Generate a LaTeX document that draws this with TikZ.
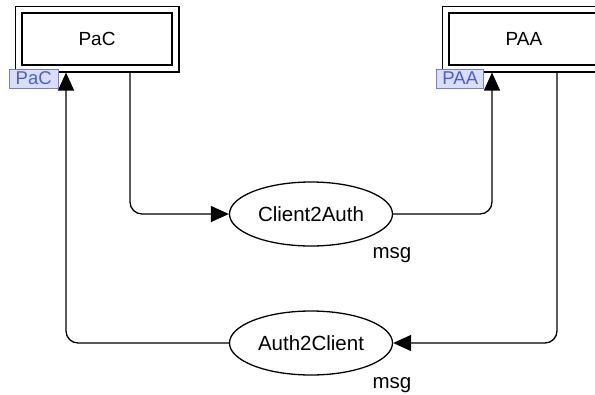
\documentclass[tikz,border=0pt]{standalone}
\usepackage{fontspec}
\setmainfont{Liberation Sans}
\usetikzlibrary{shapes.geometric,arrows.meta,fit,calc}
\definecolor{lblfill}{RGB}{218,222,252}
\definecolor{lbldraw}{RGB}{110,128,232}
\definecolor{lbltext}{RGB}{70,95,215}
\begin{document}
\begin{tikzpicture}[x=1pt,y=-1pt,
  every node/.style={font=\fontsize{19}{22}\selectfont},
  procbox/.style={draw,line width=1.5pt,minimum width=150pt,minimum height=52pt,inner sep=0pt},
  outerbox/.style={draw,line width=1.5pt,inner sep=6pt},
  msgell/.style={draw,ellipse,line width=1.3pt,minimum width=163pt,minimum height=64pt,inner sep=0pt,font=\fontsize{20.5}{23}\selectfont},
  portlbl/.style={draw=lbldraw,fill=lblfill,text=lbltext,line width=0.9pt,minimum height=19pt,inner sep=1.5pt,font=\fontsize{18.5}{20}\selectfont},
  msglbl/.style={inner sep=0pt,font=\fontsize{20.5}{23}\selectfont},
  flow/.style={line width=1.3pt,rounded corners=12pt,-{Triangle[length=18pt,width=16pt]}}
]
\useasboundingbox (0,0) rectangle (595,394);
% boxes
\node[procbox] (pac) at (97,39) {PaC};
\node[outerbox,fit=(pac)] (pacout) {};
\node[procbox] (paa) at (524,39) {PAA};
\node[outerbox,fit=(paa)] (paaout) {};
% port labels
\node[portlbl,minimum width=49pt] (pacl) at (33.7,78.5) {PaC};
\node[portlbl,minimum width=47pt] (paal) at (460.3,78.5) {PAA};
% ellipses
\node[msgell] (c2a) at (311,214) {Client2Auth};
\node[msgell] (a2c) at (311,343) {Auth2Client};
\node[msglbl] (m1) at (392,255) {msg};
\node[msglbl] (m2) at (392,385) {msg};
% connectors
\draw[flow] ([xshift=33pt]pacout.south) |- (c2a.west);
\draw[flow] (c2a.east) -| ([xshift=-32pt]paaout.south);
\draw[flow] ([xshift=33pt]paaout.south) |- (a2c.east);
\draw[flow] (a2c.west) -| ([xshift=-31pt]pacout.south);
\end{tikzpicture}
\end{document}
